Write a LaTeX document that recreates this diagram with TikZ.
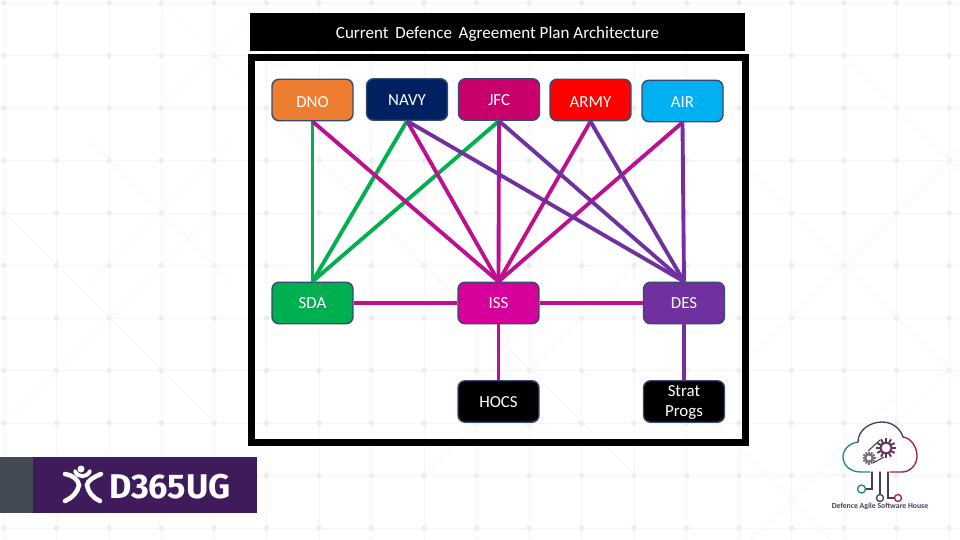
\documentclass[tikz,border=0pt]{standalone}
\usepackage{fontspec}
\setmainfont{Carlito}
\newfontfamily\logofont{Fira Sans}
\usetikzlibrary{arrows.meta}
\definecolor{dnoorange}{HTML}{ED7D31}
\definecolor{navyblue}{HTML}{002060}
\definecolor{jfcrose}{HTML}{C9006B}
\definecolor{airblue}{HTML}{00B0F0}
\definecolor{sdagreen}{HTML}{00B050}
\definecolor{issmagenta}{HTML}{D6009B}
\definecolor{despurple}{HTML}{7030A0}
\definecolor{linkmagenta}{HTML}{BE0F8E}
\definecolor{boxedge}{HTML}{344A70}
\definecolor{bandgrey}{HTML}{434A54}
\definecolor{bandpurple}{HTML}{3F1B5B}
\definecolor{cloudteal}{HTML}{1F8A84}
\definecolor{cloudmid}{HTML}{4A3A60}
\definecolor{cloudred}{HTML}{A01F4F}
\tikzset{orgbox/.style={draw=boxedge,line width=.8pt,rounded corners=.14cm,minimum width=1.62cm,minimum height=.83cm,
  inner sep=0pt,align=center,text=white,text height=#1,text depth=0pt,font=\fontsize{9.6}{11.4}\selectfont},
 orgbox/.default=6.2pt,
 greenlink/.style={sdagreen,line width=2.2pt},
 rosslink/.style={linkmagenta,line width=2.2pt},
 purplelink/.style={despurple,line width=2.2pt},
 patternline/.style={black!3.5,line width=.4pt},
 patterndot/.style={circle,fill=black!7,inner sep=0pt,minimum size=.11cm},
 cloudline/.style={line width=.75pt,line cap=round}}
\newcommand{\gearwheel}[4]{% x, y, radius, colour
 \foreach \t in {0,30,...,330}{
  \draw[#4,line width=1.1pt] (#1,#2) ++(\t:#3*.6) -- ++(\t:#3*.4);
 }
 \draw[#4,line width=1.1pt,fill=white] (#1,#2) circle[radius=#3*.55];
}
\begin{document}
\begin{tikzpicture}[x=.02cm,y=-.02cm]
 \useasboundingbox (0,0) rectangle (960,540);
 \fill[white] (0,0) rectangle (960,540);
 \foreach \i in {0,...,18}{
  \draw[patternline] (4+52.5*\i,3) -- (4+52.5*\i,540);
 }
 \foreach \j in {0,...,10}{
  \draw[patternline] (0,3+52.5*\j) -- (960,3+52.5*\j);
  \foreach \i in {0,...,18}{
   \node[patterndot] (dot\i-\j) at (4+52.5*\i,3+52.5*\j) {};
  }
 }
 \foreach \cx/\cy/\rr in {844/265/105,949/160/105,161/212/70,109/317/105,214/55/52,949/370/105,791/500/105,530/370/105,370/212/105}{
  \draw[patternline] (\cx-\rr,\cy-\rr) -- (\cx+\rr,\cy+\rr);
  \draw[patternline] (\cx-\rr,\cy+\rr) -- (\cx+\rr,\cy-\rr);
 }
 \node[fill=black,text=white,minimum width=9.9cm,minimum height=.76cm,inner sep=0pt,text height=7pt,text depth=0pt,
  font=\fontsize{9.7}{12}\selectfont] (title) at (497.5,32) {Current\, Defence\, Agreement Plan Architecture};
 \node[draw=black,line width=.14cm,minimum width=9.88cm,minimum height=7.7cm,inner sep=0pt] (frame) at (498.5,250) {};

 \node[orgbox=8.5pt,fill=dnoorange] (dno) at (312.5,100) {DNO};
 \node[orgbox=6.8pt,fill=navyblue] (navy) at (407,99.5) {NAVY};
 \node[orgbox=6.8pt,fill=jfcrose] (jfc) at (499,99.5) {JFC};
 \node[orgbox=8.5pt,fill=red] (army) at (590.5,100) {ARMY};
 \node[orgbox=7.3pt,fill=airblue] (air) at (682.5,101) {AIR};
 \node[orgbox,fill=sdagreen] (sda) at (312.5,303) {SDA};
 \node[orgbox,fill=issmagenta] (iss) at (498.5,303) {ISS};
 \node[orgbox,fill=despurple] (des) at (684,303) {DES};
 \node[orgbox=6.8pt,fill=black] (hocs) at (498.5,401.5) {HOCS};
 \node[orgbox=17pt,fill=black] (strat) at (684,401.5) {Strat\\Progs};

 \draw[greenlink] (dno.south) -- (sda.north);
 \draw[greenlink] (navy.south) -- (sda.north);
 \draw[greenlink] (jfc.south) -- (sda.north);
 \draw[rosslink] (dno.south) -- (iss.north);
 \draw[rosslink] (navy.south) -- (iss.north);
 \draw[rosslink] (jfc.south) -- (iss.north);
 \draw[rosslink] (army.south) -- (iss.north);
 \draw[rosslink] (air.south) -- (iss.north);
 \draw[purplelink] (navy.south) -- (des.north);
 \draw[purplelink] (jfc.south) -- (des.north);
 \draw[purplelink] (army.south) -- (des.north);
 \draw[purplelink] (air.south) -- (des.north);
 \draw[rosslink] (sda) -- (iss);
 \draw[rosslink] (iss) -- (des);
 \draw[rosslink] (iss) -- (hocs);
 \draw[purplelink] (des) -- (strat);

 % lower left band
 \fill[bandgrey] (0,457) rectangle (33,513);
 \fill[bandpurple] (33,457) rectangle (257,513);
 \draw[white,line width=2.6pt,line cap=round] (65,474) .. controls (72,475) and (78,479) .. (79,485) .. controls (78,492) and (72,498) .. (65,501);
 \draw[white,line width=2.6pt,line cap=round] (101,474) .. controls (94,477) and (88,480) .. (87,485) .. controls (88,492) and (93,498) .. (100,501);
 \draw[white,line width=2.2pt,line cap=round] (75,471) .. controls (78,478) and (87,478) .. (90,471);
 \fill[white] (81,469) circle[radius=3.5];
 \node[text=white,inner sep=0pt,anchor=west,font=\logofont\bfseries\fontsize{19.5}{20}\selectfont] (band) at (109,487) {D365UG};

 % lower right cloud
 \draw[cloudline,cloudteal] (870,472) -- (861,472) .. controls (850,472) and (843,465) .. (843,457) .. controls (843,449) and (850,443) .. (858,442);
 \draw[cloudline,cloudmid] (858,442) .. controls (858,430) and (870,422) .. (882,422) .. controls (892,422) and (900,428) .. (903,437);
 \draw[cloudline,cloudred] (903,437) .. controls (911,438) and (917,447) .. (917,456) .. controls (917,465) and (910,472) .. (902,472) -- (890,472);
 \draw[cloudline,cloudmid] (872,472) -- (872,489) -- (866,489);
 \draw[cloudline,cloudteal] (861.5,489) circle[radius=4];
 \draw[cloudline,cloudmid] (880,472) -- (880,494);
 \draw[cloudline,cloudmid] (880,498) circle[radius=3.5];
 \draw[cloudline,cloudmid] (888,472) -- (888,498) -- (894,498);
 \draw[cloudline,cloudred] (898,498) circle[radius=3.5];
 \draw[cloudmid,line width=.6pt] (868,451) -- (880,440);
 \draw[cloudmid,line width=.6pt] (873,463) -- (884,457);
 \gearwheel{869}{458}{6.5}{black!55}
 \gearwheel{886}{448}{10}{cloudmid!70!cloudred}
 \node[inner sep=0pt,text=cloudmid,font=\fontsize{4.4}{5}\selectfont\bfseries] (house) at (880,506.5) {Defence Agile Software House};
\end{tikzpicture}
\end{document}
